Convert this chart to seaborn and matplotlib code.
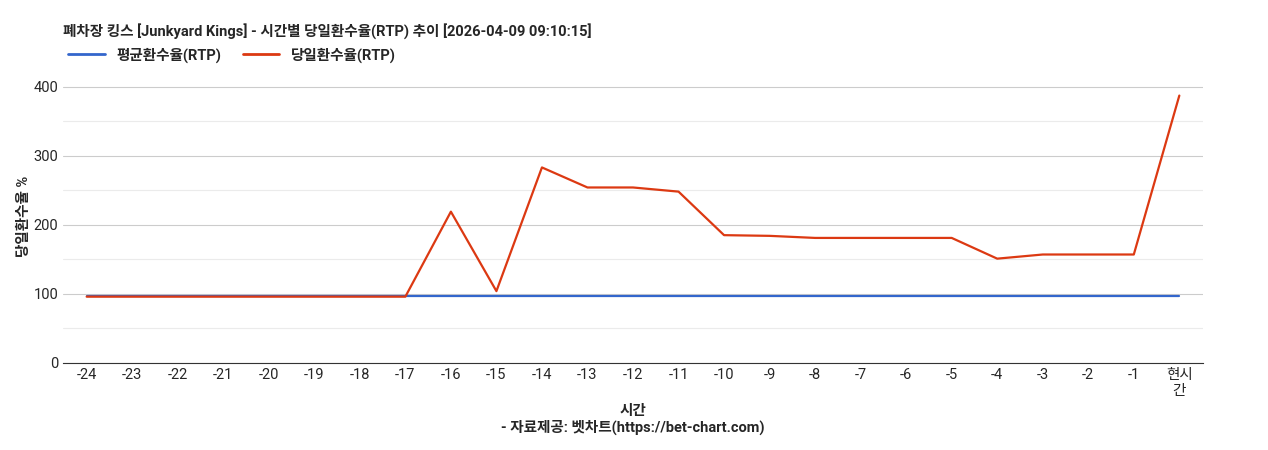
import matplotlib
matplotlib.use("Agg")
import matplotlib.pyplot as plt
import seaborn as sns
import pandas as pd

sns.set_style("white")
plt.rcParams['font.family'] = ['Roboto', 'Noto Sans CJK KR', 'DejaVu Sans']

labels = [str(i) for i in range(-24, 0)] + ["현시\n간"]
avg_rtp = [97] * 25
day_rtp = [96, 96, 96, 96, 96, 96, 96, 96, 219, 104, 283, 254, 254, 248,
           185, 184, 181, 181, 181, 181, 151, 157, 157, 157, 387]

df = pd.DataFrame({"x": list(range(25)) * 2,
                   "v": avg_rtp + day_rtp,
                   "s": ["평균환수율(RTP)"] * 25 + ["당일환수율(RTP)"] * 25})

fig = plt.figure(figsize=(12.68, 4.5), dpi=100)
ax = fig.add_axes([63/1268, 87/450, 1140/1268, 293/450])
sns.lineplot(data=df, x="x", y="v", hue="s", palette=["#3366cc", "#dc3912"],
             linewidth=1.6, ax=ax, legend=False)
ax.set_ylim(0, 424)
ax.set_xlim(-0.52, 24.52)
ax.set_yticks([0, 100, 200, 300, 400])
ax.set_yticks([50, 150, 250, 350], minor=True)
ax.grid(axis="y", which="major", color="#cccccc", linewidth=0.8)
ax.grid(axis="y", which="minor", color="#ebebeb", linewidth=0.8)
ax.set_axisbelow(True)
ax.set_xticks(range(25))
ax.set_xticklabels(labels, fontsize=10.5)
ax.tick_params(axis="y", labelsize=10.5, length=0)
ax.tick_params(axis="x", length=0)
for s in ["top", "right", "left"]:
    ax.spines[s].set_visible(False)
ax.spines["bottom"].set_color("#333333")
ax.set_xlabel("시간\n- 자료제공: 벳차트(https://bet-chart.com)", fontsize=10.5, fontweight="bold")
ax.set_ylabel("당일환수율 %", fontsize=10.5, fontweight="bold", labelpad=2)

fig.text(63/1268, 1 - 31/450, "폐차장 킹스 [Junkyard Kings] - 시간별 당일환수율(RTP) 추이 [2026-04-09 09:10:15]",
         fontsize=10.5, fontweight="bold", va="center")
from matplotlib.lines import Line2D
handles = [Line2D([], [], color="#3366cc", lw=2), Line2D([], [], color="#dc3912", lw=2)]
fig.legend(handles, ["평균환수율(RTP)", "당일환수율(RTP)"], loc="center left",
           bbox_to_anchor=(55/1268, 1 - 55/450), ncol=2, frameon=False,
           prop={"weight": "bold", "size": 10.5}, handlelength=2.5, columnspacing=1.5)
fig.savefig("out.png", dpi=100)
